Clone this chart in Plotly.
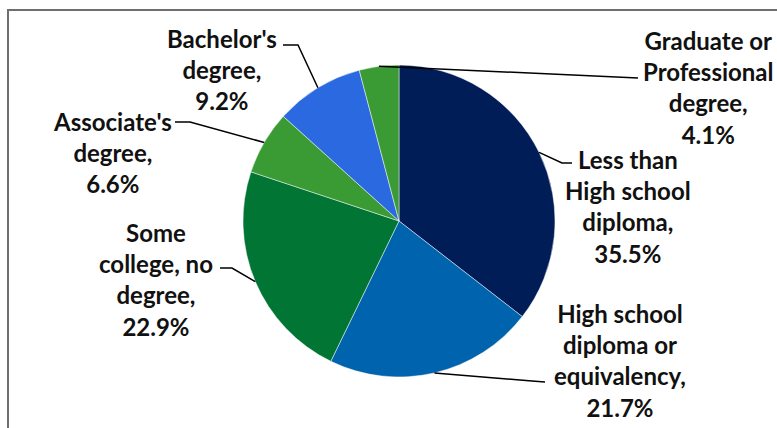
import math
import plotly.graph_objects as go

# Educational attainment shares (%), clockwise from 12 o'clock
categories = [
    "Less than High school diploma",
    "High school diploma or equivalency",
    "Some college, no degree",
    "Associate's degree",
    "Bachelor's degree",
    "Graduate or Professional degree",
]
values = [35.5, 21.7, 22.9, 6.6, 9.2, 4.1]
label_lines = [
    ["Less than", "High school", "diploma,"],
    ["High school", "diploma or", "equivalency,"],
    ["Some", "college, no", "degree,"],
    ["Associate's", "degree,"],
    ["Bachelor's", "degree,"],
    ["Graduate or", "Professional", "degree,"],
]
colors = ["#001d57", "#0063ad", "#007534", "#3a9b35", "#2b69e0", "#3a9b35"]

W, H = 777, 428
CX, CY, R = 399, 221, 156  # pie centre and radius in pixels


def to_paper(x, y):
    return x / W, 1 - y / H


# label block centres (pixels) and where each leader line meets its label
label_pos = [(628, 206), (620, 360), (156, 279), (112, 152), (222, 70), (708, 87)]
leader_end = [(572, 163), (545, 382), (220, 268), (175, 122), (283, 45), (638, 78)]
elbow = [(562, 163), (532, 381), (232, 268), (190, 122), (298, 45), None]

fig = go.Figure()
x0, y1 = to_paper(CX - R, CY - R)
x1, y0 = to_paper(CX + R, CY + R)
fig.add_trace(go.Pie(
    labels=categories,
    values=values,
    sort=False,
    direction="clockwise",
    rotation=0,
    marker=dict(colors=colors, line=dict(color="rgba(255,255,255,0.6)", width=0.8)),
    textinfo="none",
    hoverinfo="label+percent",
    showlegend=False,
    domain=dict(x=[x0, x1], y=[y0, y1]),
))

shapes = []
annotations = []
total = sum(values)
cum = 0.0
for i, v in enumerate(values):
    mid = (cum + v / 2) / total * 2 * math.pi
    cum += v
    sx = CX + R * math.sin(mid)
    sy = CY - R * math.cos(mid)
    pts = [(sx, sy)]
    if elbow[i] is not None:
        pts.append(elbow[i])
    pts.append(leader_end[i])
    path = "M " + " L ".join(
        "{:.5f},{:.5f}".format(*to_paper(px, py)) for px, py in pts)
    shapes.append(dict(type="path", path=path, xref="paper", yref="paper",
                       line=dict(color="#000000", width=1.5)))
    lx, ly = to_paper(*label_pos[i])
    text = "<br>".join(label_lines[i] + ["{:.1f}%".format(v)])
    annotations.append(dict(
        x=lx, y=ly, xref="paper", yref="paper", text=text, showarrow=False,
        xanchor="center", yanchor="middle", align="center",
        font=dict(family="Lato", size=24, color="#111111", weight="bold"),
    ))

# chart frame
fx0, fy1 = to_paper(8, 10)
fx1, fy0 = to_paper(W + 20, H + 20)
shapes.append(dict(type="rect", xref="paper", yref="paper",
                   x0=fx0, y0=fy0, x1=fx1, y1=fy1,
                   line=dict(color="#6e6e6e", width=2)))

fig.update_layout(
    width=W, height=H,
    margin=dict(l=0, r=0, t=0, b=0),
    paper_bgcolor="white",
    plot_bgcolor="white",
    shapes=shapes,
    annotations=annotations,
)
fig.write_html("out.html")
